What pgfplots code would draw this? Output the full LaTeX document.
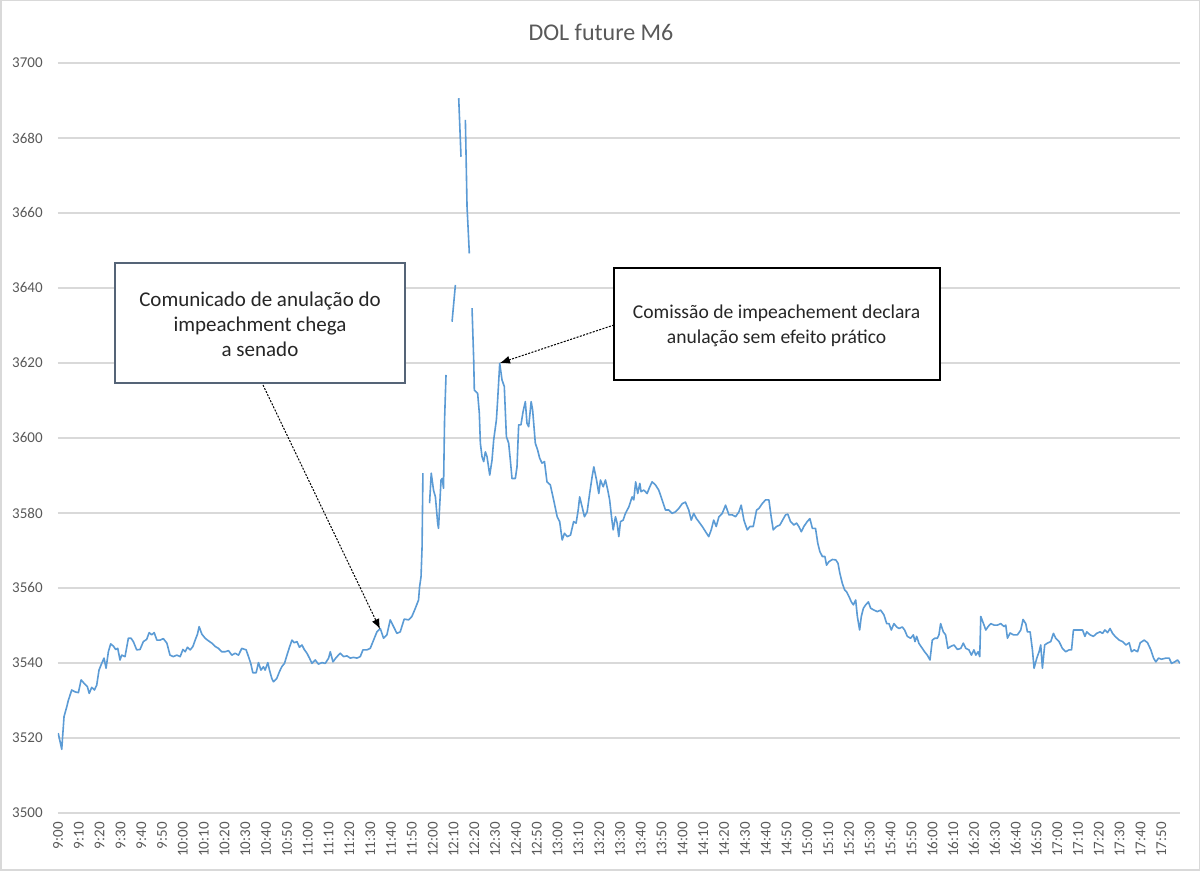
\documentclass[border=0pt]{standalone}
\usepackage{pgfplots}
\pgfplotsset{compat=1.18}
\usepackage{pgfplotstable}
\usepackage{fontspec}
\setmainfont{Carlito}
\usetikzlibrary{arrows.meta}
\definecolor{excelblue}{HTML}{5B9BD5}
\definecolor{gridgray}{HTML}{D9D9D9}
\definecolor{txtgray}{HTML}{595959}
\definecolor{boxslate}{HTML}{556477}

\pgfplotstableread{
m v
0.1 3521.3
1.8 3517.0
2.9 3525.7
4.2 3528.3
5.0 3530.1
6.6 3532.8
8.2 3532.3
9.8 3532.1
11.1 3535.5
12.5 3534.6
14.1 3533.7
15.0 3531.9
16.2 3533.5
17.5 3532.8
18.6 3534.1
19.7 3538.1
21.0 3539.9
22.1 3541.3
23.1 3538.6
24.2 3543.0
25.3 3545.1
26.6 3544.5
27.7 3543.6
28.7 3543.9
29.8 3540.8
30.6 3542.1
32.2 3541.7
33.8 3546.6
35.1 3546.6
36.2 3545.7
37.8 3543.5
39.4 3543.6
41.0 3545.7
42.6 3546.3
43.8 3548.1
45.0 3547.5
46.2 3548.1
47.5 3546.1
49.0 3546.1
50.6 3546.5
52.3 3545.3
53.8 3542.1
55.4 3541.7
57.1 3542.1
58.7 3541.7
60.0 3543.6
61.1 3543.0
62.2 3544.2
63.5 3543.5
64.8 3544.4
65.9 3546.1
67.0 3547.7
67.8 3549.7
69.1 3547.7
70.7 3546.6
72.3 3545.9
73.9 3545.3
75.5 3544.4
77.1 3543.9
78.7 3543.0
80.3 3543.0
81.9 3543.3
83.5 3542.1
85.1 3542.6
86.7 3542.1
88.3 3543.9
90.4 3543.5
91.5 3541.7
92.6 3539.9
93.6 3537.4
95.2 3537.4
96.3 3540.1
97.5 3538.1
98.7 3539.0
99.5 3538.1
100.8 3540.1
101.6 3538.1
102.7 3535.9
103.5 3535.0
105.1 3535.9
106.4 3537.7
107.5 3539.0
108.8 3539.9
110.0 3542.1
111.2 3544.2
112.4 3546.1
113.5 3545.4
114.8 3545.7
116.0 3544.2
117.2 3544.8
118.3 3543.6
119.6 3542.6
120.8 3541.3
122.0 3539.9
123.6 3540.8
125.1 3539.7
126.8 3540.1
128.4 3539.9
130.0 3541.3
130.8 3543.0
132.1 3540.3
133.7 3541.5
135.6 3542.6
137.2 3541.7
138.8 3541.9
140.4 3541.3
142.0 3541.5
143.6 3541.3
145.2 3541.7
146.5 3543.5
148.4 3543.5
150.0 3543.9
151.6 3546.1
153.2 3548.3
154.8 3549.2
156.4 3546.6
158.0 3547.5
159.6 3551.5
161.2 3549.7
162.8 3547.9
164.4 3548.3
166.3 3551.7
168.4 3551.5
170.0 3552.4
171.6 3554.5
173.2 3556.8
173.7 3560.3
174.4 3563.0
174.9 3571.0
175.3 3590.6
176.5 nan
178.5 3582.6
179.3 3590.6
180.4 3586.1
181.3 3584.3
182.4 3577.2
182.8 3575.9
184.0 3588.8
184.6 3589.2
185.2 3586.6
185.7 3604.8
186.4 3616.8
188.0 nan
189.3 3631.0
190.9 3640.8
191.7 nan
192.5 3690.6
193.6 3675.0
194.5 nan
195.7 3684.8
196.5 3661.7
197.6 3649.2
198.3 nan
198.9 3634.6
199.7 3620.8
200.0 3612.8
201.6 3611.9
202.4 3606.6
202.9 3598.6
203.7 3595.0
204.5 3593.7
205.3 3596.3
206.1 3595.0
207.4 3590.1
208.5 3594.1
209.3 3599.5
210.6 3604.8
211.2 3610.1
212.2 3619.9
213.3 3615.5
214.4 3613.7
215.4 3600.4
216.5 3598.6
217.3 3594.1
218.1 3589.2
219.7 3589.2
220.5 3592.3
221.3 3603.5
222.4 3603.5
223.4 3607.0
224.5 3609.7
225.3 3603.9
226.1 3603.0
227.3 3609.7
228.0 3607.5
229.3 3598.6
230.4 3596.8
231.4 3594.6
232.5 3593.3
233.7 3593.7
234.9 3588.3
236.5 3587.5
238.1 3583.5
239.8 3579.0
241.0 3577.7
242.2 3572.8
243.3 3574.6
244.6 3573.7
246.2 3574.1
247.7 3577.7
248.9 3577.3
249.9 3580.8
250.6 3584.3
251.8 3581.6
252.9 3579.0
254.2 3580.3
255.4 3585.2
256.6 3589.7
257.4 3592.3
258.7 3588.8
259.8 3585.2
260.6 3588.8
261.9 3587.0
263.0 3588.8
264.1 3586.1
265.0 3583.5
265.9 3579.0
266.7 3575.5
267.8 3579.0
268.6 3577.3
269.4 3573.7
270.2 3577.7
271.5 3578.1
272.6 3579.9
274.2 3581.6
275.8 3584.3
276.6 3583.5
277.5 3588.3
278.5 3585.2
279.5 3587.9
280.1 3585.7
281.4 3586.1
283.0 3585.2
284.3 3587.0
285.4 3588.3
287.0 3587.5
288.6 3586.1
290.2 3583.5
291.8 3580.8
293.4 3580.8
295.0 3579.9
296.6 3580.3
298.2 3581.2
299.9 3582.5
301.4 3582.9
303.0 3580.8
304.2 3578.1
305.4 3579.9
306.7 3578.5
307.8 3577.7
309.5 3576.4
311.1 3575.0
312.6 3573.7
313.8 3575.5
315.0 3578.1
316.2 3576.4
317.5 3579.0
319.1 3579.9
320.7 3582.1
322.3 3579.5
323.9 3579.5
325.5 3579.0
327.1 3580.3
328.2 3582.1
329.5 3578.1
331.1 3575.5
332.4 3576.4
334.0 3576.4
335.6 3580.8
336.7 3581.2
338.3 3582.5
339.9 3583.5
341.5 3583.5
342.6 3579.0
343.6 3575.5
345.2 3576.4
346.8 3576.8
349.5 3579.5
350.6 3579.7
351.9 3577.7
353.5 3576.8
354.8 3577.3
355.9 3576.4
357.1 3575.0
358.3 3576.4
359.9 3577.7
361.2 3578.5
362.4 3575.9
363.9 3575.9
365.0 3571.9
366.0 3569.7
367.2 3568.4
368.4 3568.4
369.2 3566.1
370.3 3567.0
372.0 3567.6
373.6 3567.5
374.7 3566.6
375.6 3563.9
376.8 3561.2
377.9 3559.5
378.8 3559.0
380.0 3557.7
381.1 3556.3
382.1 3555.5
383.2 3556.8
384.0 3552.4
385.1 3548.8
385.9 3552.4
386.9 3554.6
388.0 3555.5
389.3 3556.3
390.4 3554.6
392.0 3554.1
393.6 3553.7
395.2 3554.1
396.8 3552.8
398.1 3550.5
399.2 3550.5
400.3 3548.8
401.6 3550.5
402.9 3549.6
404.0 3549.2
405.6 3549.6
406.7 3548.8
408.0 3547.1
409.6 3546.6
410.9 3547.5
411.7 3545.7
412.5 3547.1
413.6 3545.2
415.2 3543.9
416.3 3543.0
417.6 3542.1
418.9 3540.8
420.0 3546.1
421.2 3546.6
422.4 3546.6
423.2 3547.5
424.0 3550.5
425.3 3548.3
426.4 3547.5
427.5 3543.9
428.8 3544.4
430.4 3544.8
432.1 3543.6
433.7 3543.9
434.9 3545.3
436.1 3543.9
437.6 3543.5
438.8 3542.1
440.0 3543.5
440.9 3542.1
442.0 3543.0
442.8 3541.7
443.3 3552.4
444.6 3550.5
445.7 3548.8
446.8 3549.7
448.1 3550.5
449.7 3550.1
451.3 3550.1
452.9 3550.5
454.5 3549.7
455.3 3550.1
456.1 3546.6
457.4 3548.0
459.0 3547.5
460.9 3547.5
462.5 3548.8
463.6 3551.6
464.9 3550.5
465.7 3548.3
467.0 3548.3
468.1 3543.5
468.9 3538.6
470.2 3541.3
471.3 3543.0
472.1 3544.8
472.9 3538.6
474.0 3544.8
475.3 3545.3
476.9 3545.7
478.2 3547.9
479.3 3546.6
480.9 3545.7
482.5 3543.9
484.1 3543.0
485.7 3543.5
486.9 3543.5
487.8 3548.8
489.8 3548.8
492.2 3548.8
493.3 3547.1
494.2 3548.3
495.8 3547.5
497.4 3547.1
499.0 3547.9
500.6 3548.3
501.8 3547.9
502.9 3548.8
504.2 3548.1
505.4 3549.2
506.6 3547.9
507.8 3547.1
509.8 3546.1
511.4 3545.7
513.0 3544.8
514.6 3545.4
515.7 3543.0
517.0 3543.5
518.6 3543.0
519.9 3545.4
521.8 3546.1
523.4 3545.4
525.0 3543.5
526.3 3541.3
527.4 3540.3
528.7 3541.3
530.1 3541.0
532.2 3541.3
533.8 3541.3
534.9 3539.9
536.5 3540.3
537.8 3540.8
539.0 3539.9
}\dol

\begin{document}
\begin{tikzpicture}
\useasboundingbox (0,0) rectangle (600pt,435.5pt);
\fill[white] (0,0) rectangle (600pt,435.5pt);
\draw[gridgray, line width=0.75pt] (0.375pt,0.375pt) rectangle (599.625pt,435.125pt);
\node[font=\fontsize{12}{14}\selectfont, text=txtgray] at (300.5pt,419.5pt) {DOL future M6};
\begin{axis}[
  at={(29pt,29pt)}, anchor=south west,
  scale only axis, width=561pt, height=375pt,
  xmin=0, xmax=539, ymin=3500, ymax=3700,
  axis line style={draw=none},
  major tick length=0pt,
  ytick={3500,3520,...,3700},
  ymajorgrids,
  grid style={gridgray, line width=0.7pt},
  xtick={0,10,...,530},
  xticklabels={9:00,9:10,9:20,9:30,9:40,9:50,10:00,10:10,10:20,10:30,10:40,10:50,11:00,11:10,11:20,11:30,11:40,11:50,12:00,12:10,12:20,12:30,12:40,12:50,13:00,13:10,13:20,13:30,13:40,13:50,14:00,14:10,14:20,14:30,14:40,14:50,15:00,15:10,15:20,15:30,15:40,15:50,16:00,16:10,16:20,16:30,16:40,16:50,17:00,17:10,17:20,17:30,17:40,17:50},
  x tick label style={font=\fontsize{7.5}{8}\selectfont, text=txtgray, rotate=90, anchor=east, inner xsep=4.5pt, inner ysep=0pt},
  y tick label style={font=\fontsize{7.5}{8}\selectfont, text=txtgray, anchor=east, inner sep=0pt, xshift=-7.5pt},
  /pgf/number format/assume math mode=true,
  /pgf/number format/1000 sep={},
  unbounded coords=jump,
]
\addplot[excelblue, line width=0.8pt, line join=round, mark=none] table[x=m, y=v] {\dol};
\end{axis}
% annotation boxes
\draw[boxslate, line width=0.75pt, fill=white] (57.5pt,244pt) rectangle (202.5pt,304pt);
\node[align=center, font=\fontsize{10.5}{12.5}\selectfont, text=black!85] at (130pt,273.5pt) {Comunicado de anulação do\\impeachment chega\\a senado};
\draw[black, line width=0.75pt, fill=white] (307pt,245.5pt) rectangle (470pt,301.5pt);
\node[align=center, font=\fontsize{9.8}{12.5}\selectfont, text=black!85] at (388.3pt,272.75pt) {Comissão de impeachement declara\\anulação sem efeito prático};
\draw[black, line width=0.5pt, dash pattern=on 1pt off 0.7pt, -{Latex[length=5pt,width=4pt]}] (131.5pt,243pt) -- (190pt,121pt);
\draw[black, line width=0.5pt, dash pattern=on 1pt off 0.7pt, -{Latex[length=5pt,width=4pt]}] (307pt,273pt) -- (250pt,254pt);
\end{tikzpicture}
\end{document}
